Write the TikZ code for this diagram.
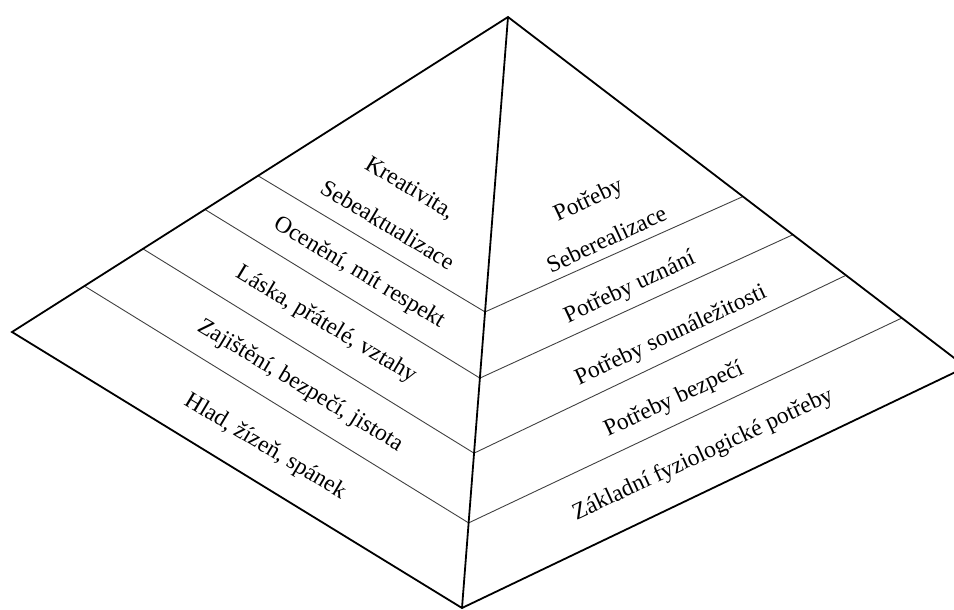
\documentclass[tikz,border=0pt]{standalone}
\usepackage{fontspec}
\setmainfont{Liberation Serif}
\usetikzlibrary{calc}

\tikzset{
	edge/.style={line width=1.8pt, line join=miter},
	layer/.style={line width=0.9pt, black!75},
	lefttext/.style={font=\fontsize{23.5}{44}\selectfont, inner sep=0pt, align=center, rotate=-31},
	righttext/.style={font=\fontsize{23.5}{44}\selectfont, inner sep=0pt, align=center, rotate=25}
}

\begin{document}
\begin{tikzpicture}[x=1pt, y=-1pt]
		\clip (0, 0) rectangle (954, 610);

		\coordinate (apex) at (508, 17);
		\coordinate (left) at (12, 332);
		\coordinate (bottom) at (462, 608);
		\coordinate (right) at (966, 367);

		% layer points on the three edges
		\coordinate (l1) at ($(apex)!0.504!(left)$);
		\coordinate (l2) at ($(apex)!0.611!(left)$);
		\coordinate (l3) at ($(apex)!0.736!(left)$);
		\coordinate (l4) at ($(apex)!0.854!(left)$);
		\coordinate (m1) at ($(apex)!0.499!(bottom)$);
		\coordinate (m2) at ($(apex)!0.611!(bottom)$);
		\coordinate (m3) at ($(apex)!0.738!(bottom)$);
		\coordinate (m4) at ($(apex)!0.856!(bottom)$);
		\coordinate (r1) at ($(apex)!0.513!(right)$);
		\coordinate (r2) at ($(apex)!0.622!(right)$);
		\coordinate (r3) at ($(apex)!0.738!(right)$);
		\coordinate (r4) at ($(apex)!0.860!(right)$);

		\draw[layer] (l1) -- (m1) -- (r1);
		\draw[layer] (l2) -- (m2) -- (r2);
		\draw[layer] (l3) -- (m3) -- (r3);
		\draw[layer] (l4) -- (m4) -- (r4);

		\draw[edge] (left) -- (apex) -- (right) -- (bottom) -- cycle;
		\draw[edge] (apex) -- (bottom);

		\node[lefttext] (kreativita) at (399, 206) {Kreativita,\\Sebeaktualizace};
		\node[lefttext] (oceneni) at (359, 273) {Ocenění, mít respekt};
		\node[lefttext] (laska) at (326, 325) {Láska, přátelé, vztahy};
		\node[lefttext] (zajisteni) at (300, 386) {Zajištění, bezpečí, jistota};
		\node[lefttext] (hlad) at (265, 447) {Hlad, žízeň, spánek};

		\node[righttext] (seberealizace) at (597, 219) {Potřeby\\Seberealizace};
		\node[righttext] (uznani) at (630, 288) {Potřeby uznání};
		\node[righttext] (sounalezitost) at (671, 336) {Potřeby sounáležitosti};
		\node[righttext] (bezpeci) at (674, 400) {Potřeby bezpečí};
		\node[righttext] (zakladni) at (703, 455) {Základní fyziologické potřeby};
	\end{tikzpicture}
\end{document}
